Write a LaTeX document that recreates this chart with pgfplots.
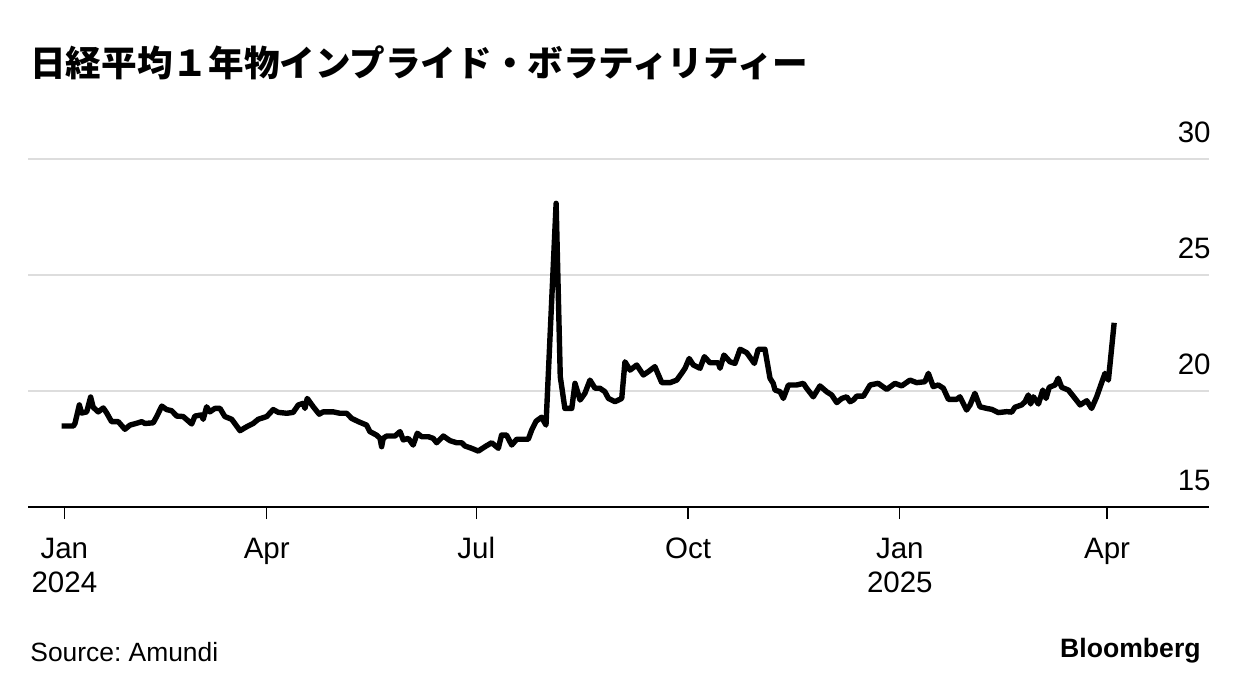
\documentclass[border=0pt]{standalone}
\usepackage{fontspec}
\setmainfont{Liberation Sans}
\newfontfamily\jpfont{Noto Sans CJK JP}
\usepackage{pgfplots}
\pgfplotsset{compat=1.18}
\definecolor{gridgray}{RGB}{221,221,221}
\frenchspacing

\begin{document}
\begin{tikzpicture}
\path[use as bounding box] (0pt,0pt) rectangle (620pt,346pt);
\begin{axis}[
  at={(14pt,92.5pt)}, anchor=south west,
  scale only axis, width=590.5pt, height=174pt,
  xmin=-12.7, xmax=500.3, ymin=15, ymax=30,
  axis x line*=bottom,
  axis y line*=right,
  y axis line style={draw=none},
  x axis line style={line width=0.9pt},
  tick align=outside,
  xtick={3.1,91,182,274,366,456},
  xticklabels={{\strut Jan\\\strut 2024},\strut Apr,\strut Jul,\strut Oct,{\strut Jan\\\strut 2025},\strut Apr},
  xtick style={black, line width=0.6pt},
  major tick length=6pt,
  xticklabel style={align=center, anchor=north, inner sep=0pt, yshift=-7.6pt,
    font=\fontsize{14.75}{17}\selectfont},
  ytick={15,20,25,30},
  ytick style={draw=none},
  ymajorgrids,
  grid style={gridgray, line width=1.2pt},
  yticklabel style={anchor=base east, inner sep=0pt, yshift=8.3pt, xshift=-5pt,
    font=\fontsize{14.75}{17}\selectfont},
  /pgf/number format/assume math mode=true,
  clip=false,
]
\addplot[black, line width=2.7pt, line join=round] coordinates {
(1.9,18.49) (7.0,18.49) (7.7,18.6) (9.6,19.4) (10.6,19.05) (12.8,19.1)
(14.5,19.74) (15.6,19.3) (17.8,19.1) (20.0,19.27) (21.5,19.05) (23.6,18.68)
(26.5,18.68) (29.4,18.35) (31.6,18.53) (35.2,18.63) (36.7,18.68) (38.1,18.6)
(41.7,18.63) (43.2,18.9) (45.4,19.35) (47.5,19.2) (49.7,19.15) (51.9,18.92)
(54.7,18.9) (58.4,18.58) (59.8,18.92) (62.7,18.97) (63.4,18.78) (64.9,19.32)
(66.3,19.1) (68.5,19.25) (70.7,19.25) (72.8,18.9) (75.8,18.78) (79.4,18.29)
(82.3,18.46) (85.1,18.6) (87.3,18.78) (91.0,18.9) (93.8,19.2) (96.0,19.08)
(99.7,19.04) (102.5,19.08) (104.7,19.4) (106.9,19.47) (107.6,19.25) (108.6,19.68)
(111.2,19.32) (113.8,19.0) (115.5,19.1) (119.9,19.1) (122.8,19.04) (125.7,19.04)
(127.9,18.82) (130.8,18.68) (134.4,18.53) (135.8,18.25) (138.7,18.1) (140.2,17.96)
(140.9,17.6) (141.6,17.96) (143.1,18.06) (146.7,18.06) (148.9,18.25) (150.3,17.89)
(152.5,17.96) (154.6,17.67) (156.4,18.18) (158.3,18.03) (161.2,18.03) (163.3,17.96)
(164.8,17.77) (167.7,18.06) (170.6,17.86) (173.5,17.77) (175.7,17.77) (177.1,17.63)
(180.0,17.53) (182.9,17.41) (185.8,17.6) (188.7,17.77) (191.6,17.53) (193.0,18.1)
(195.2,18.1) (197.4,17.67) (199.6,17.92) (202.4,17.92) (204.6,17.92) (206.1,18.32)
(208.0,18.7) (210.4,18.87) (212.3,18.53) (216.7,28.09) (218.5,20.62) (220.5,19.25)
(223.5,19.25) (224.9,20.33) (227.1,19.61) (229.2,19.9) (231.4,20.47) (233.6,20.12)
(235.7,20.12) (237.9,19.97) (239.4,19.68) (242.3,19.54) (245.2,19.68) (246.6,21.26)
(248.8,20.9) (251.7,21.12) (254.6,20.69) (256.7,20.83) (259.6,21.05) (262.6,20.36)
(266.2,20.36) (269.1,20.47) (271.2,20.76) (272.7,20.98) (274.5,21.4) (276.3,21.12)
(279.2,20.98) (281.1,21.48) (283.5,21.22) (287.1,21.22) (287.9,20.98) (289.6,21.55)
(292.2,21.26) (294.4,21.19) (296.6,21.8) (299.5,21.65) (302.8,21.19) (304.5,21.8)
(307.4,21.8) (309.6,20.55) (311.0,20.33) (311.8,20.04) (314.0,19.97) (315.4,19.68)
(317.6,20.26) (321.2,20.26) (324.1,20.33) (325.5,20.12) (328.4,19.75) (331.3,20.22)
(334.2,19.97) (336.4,19.83) (338.6,19.5) (340.8,19.68) (342.9,19.75) (344.4,19.54)
(345.8,19.61) (347.3,19.78) (350.2,19.78) (353.1,20.26) (356.6,20.33) (360.3,20.07)
(363.9,20.33) (366.8,20.22) (370.4,20.47) (373.3,20.36) (376.9,20.4) (378.4,20.76)
(380.5,20.19) (382.7,20.26) (384.9,20.12) (387.1,19.64) (390.7,19.64) (392.1,19.75)
(395.0,19.18) (396.5,19.4) (398.6,19.9) (400.8,19.32) (403.7,19.25) (405.9,19.21)
(408.8,19.07) (412.4,19.11) (414.6,19.09) (416.0,19.3) (418.9,19.4) (420.4,19.54)
(421.8,19.83) (422.8,19.44) (424.0,19.75) (426.2,19.44) (428.1,20.04) (429.5,19.68)
(430.9,20.16) (433.4,20.26) (434.8,20.55) (436.3,20.16) (439.2,20.04) (442.1,19.68)
(444.3,19.4) (447.2,19.58) (449.3,19.25) (451.5,19.75) (453.3,20.26) (455.1,20.76)
(456.6,20.47) (459.1,22.94)
};
\end{axis}
\node[anchor=base west, inner sep=0pt] at (15pt,307.5pt)
  {\fontsize{17.8}{20}\selectfont\jpfont\bfseries 日経平均１年物インプライド・ボラティリティー};
\node[anchor=base west, inner sep=0pt] at (15pt,15.5pt)
  {\fontsize{13.2}{15}\selectfont Source: Amundi};
\node[anchor=base east, inner sep=0pt] at (600.5pt,17.5pt)
  {\fontsize{13.3}{15}\selectfont\bfseries Bloomberg};
\end{tikzpicture}
\end{document}
